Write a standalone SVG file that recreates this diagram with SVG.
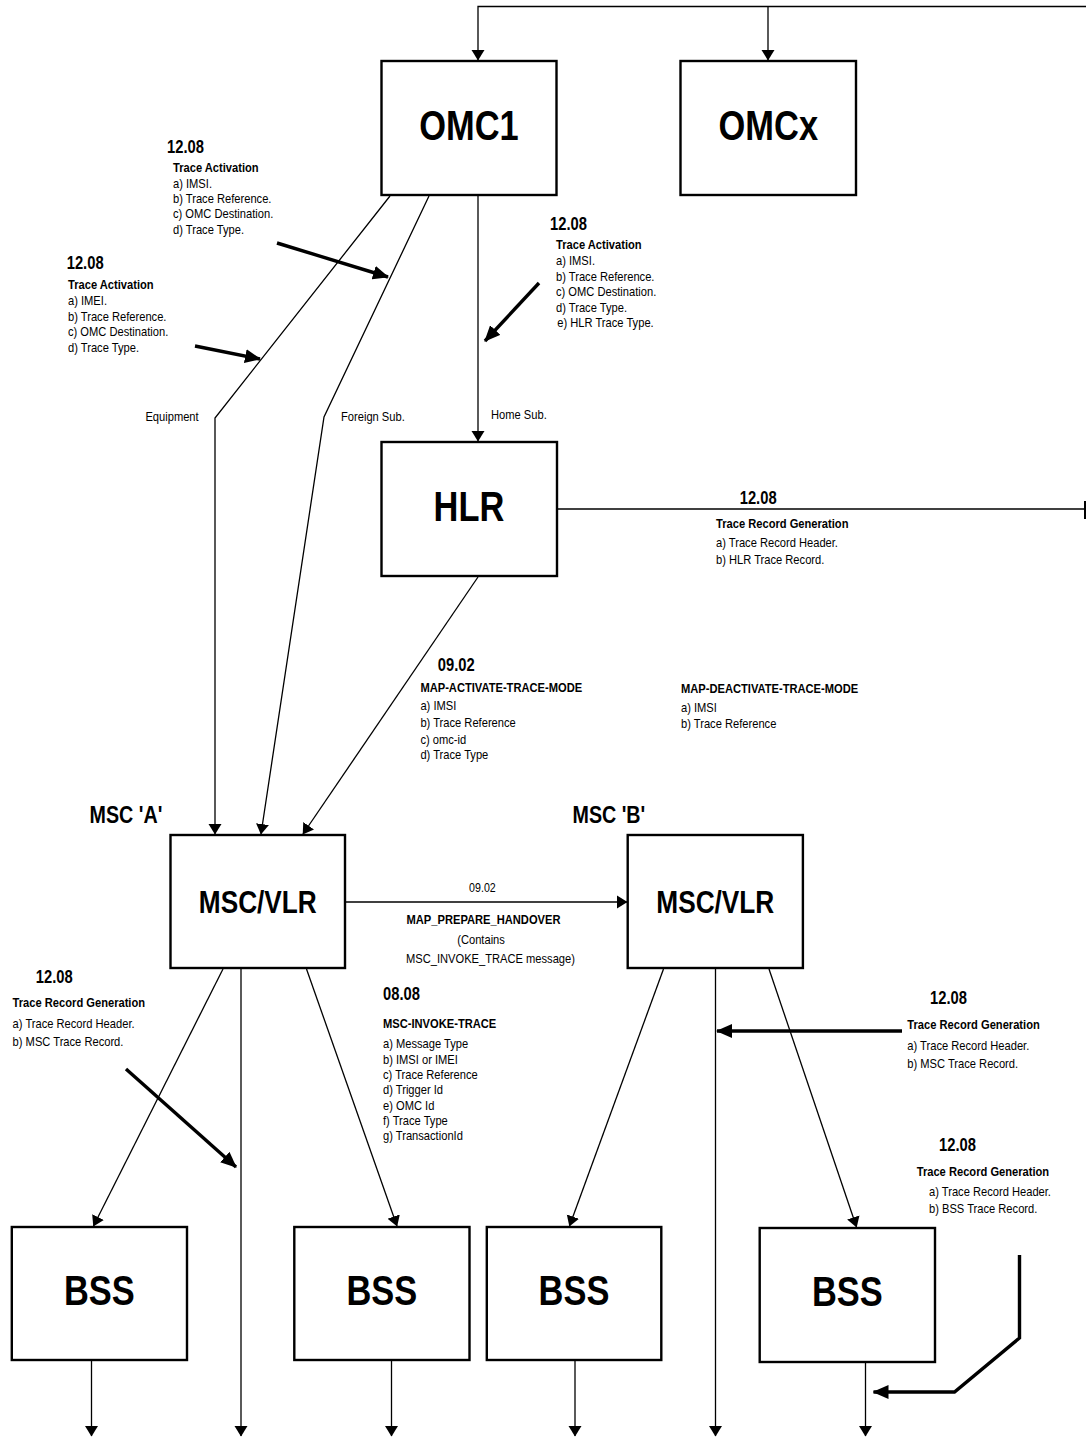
<svg xmlns="http://www.w3.org/2000/svg" width="1086" height="1437" viewBox="0 0 1086 1437">
<style>
text{font-family:"Liberation Sans",Arial,sans-serif;fill:#000}
.t{font-size:13.6px}
.b{font-weight:bold}
.h{font-size:18px;font-weight:bold}
.n{font-size:42px;font-weight:bold;text-anchor:middle}
.m{font-size:32px;font-weight:bold;text-anchor:middle}
.ms{font-size:24px;font-weight:bold}
.c{text-anchor:middle}
.box{fill:#fff;stroke:#000;stroke-width:2.4}
.ln{fill:none;stroke:#000;stroke-width:1.3}
.ar{marker-end:url(#a)}
.tk{fill:none;stroke:#000;stroke-width:3.4;marker-end:url(#ab)}
</style>
<defs>
<marker id="a" markerUnits="userSpaceOnUse" viewBox="0 0 11 14" markerWidth="11" markerHeight="14" refX="10" refY="7" orient="auto"><path d="M0,0.5 L10.5,7 L0,13.5 z" fill="#000"/></marker>
<marker id="ab" markerUnits="userSpaceOnUse" viewBox="0 0 16 14" markerWidth="16" markerHeight="14" refX="15" refY="7" orient="auto"><path d="M0,0 L16,7 L0,14 z" fill="#000"/></marker>
</defs>
<rect width="1086" height="1437" fill="#fff"/>

<g id="connectors">
<polyline class="ln ar" points="1086,6.5 478,6.5 478,60"/>
<line class="ln ar" x1="768" y1="6.5" x2="768" y2="60"/>
<line class="ln ar" x1="478" y1="196" x2="478" y2="441"/>
<polyline class="ln ar" points="390,196 215,418 215,834"/>
<polyline class="ln ar" points="429,196 324,417 261,834"/>
<line class="ln ar" x1="478" y1="577" x2="303" y2="834"/>
<line class="ln" x1="557" y1="509" x2="1085" y2="509"/>
<line x1="1085" y1="501" x2="1085" y2="519" stroke="#000" stroke-width="2"/>
<line class="ln ar" x1="346" y1="902" x2="627" y2="902"/>
<line class="ln ar" x1="223" y1="969" x2="93.5" y2="1226"/>
<line class="ln ar" x1="241" y1="969" x2="241" y2="1436"/>
<line class="ln ar" x1="306.5" y1="969" x2="397" y2="1226"/>
<line class="ln ar" x1="663.5" y1="969" x2="569.5" y2="1226"/>
<line class="ln ar" x1="715.5" y1="969" x2="715.5" y2="1436"/>
<line class="ln ar" x1="769" y1="969" x2="856.5" y2="1227"/>
<line class="ln ar" x1="91.5" y1="1361" x2="91.5" y2="1436"/>
<line class="ln ar" x1="391.5" y1="1361" x2="391.5" y2="1436"/>
<line class="ln ar" x1="575" y1="1361" x2="575" y2="1436"/>
<line class="ln ar" x1="865.5" y1="1363" x2="865.5" y2="1436"/>
<line class="tk" x1="277" y1="243" x2="388" y2="277"/>
<line class="tk" x1="195" y1="346" x2="260" y2="359"/>
<line class="tk" x1="539" y1="283" x2="485" y2="341"/>
<line class="tk" x1="126" y1="1069" x2="236" y2="1167"/>
<line class="tk" x1="902" y1="1031" x2="717" y2="1031"/>
<polyline class="tk" points="1019.5,1255 1019.5,1338 954.5,1392 873.5,1392"/>
</g>

<g id="omc1"><rect class="box" x="381.5" y="61" width="175" height="134"/><text class="n" transform="translate(469,140) scale(0.82,1)">OMC1</text></g>
<g id="omcx"><rect class="box" x="680.5" y="61" width="175.5" height="134"/><text class="n" transform="translate(768.3,140) scale(0.82,1)">OMCx</text></g>
<g id="hlr"><rect class="box" x="381.5" y="442" width="175.5" height="134"/><text class="n" transform="translate(469,521) scale(0.82,1)">HLR</text></g>
<g id="msc_a"><rect class="box" x="170.5" y="835" width="174.5" height="133"/><text class="m" transform="translate(257.8,912.7) scale(0.82,1)">MSC/VLR</text></g>
<g id="msc_b"><rect class="box" x="627.7" y="835" width="175.2" height="133"/><text class="m" transform="translate(715.3,912.7) scale(0.82,1)">MSC/VLR</text></g>
<g id="bss1"><rect class="box" x="11.8" y="1227" width="175.2" height="133"/><text class="n" transform="translate(99.4,1305) scale(0.82,1)">BSS</text></g>
<g id="bss2"><rect class="box" x="294.3" y="1227" width="175.2" height="133"/><text class="n" transform="translate(381.9,1305) scale(0.82,1)">BSS</text></g>
<g id="bss3"><rect class="box" x="486.8" y="1227" width="174.5" height="133"/><text class="n" transform="translate(574,1305) scale(0.82,1)">BSS</text></g>
<g id="bss4"><rect class="box" x="759.7" y="1228" width="175.3" height="134"/><text class="n" transform="translate(847.4,1306) scale(0.82,1)">BSS</text></g>

<g id="labels">
<g transform="translate(173,0) scale(0.82,1)">
<text class="h" x="-7.3" y="153">12.08</text>
<text class="t b" x="0" y="172">Trace Activation</text>
<text class="t" x="0" y="188">a) IMSI.</text>
<text class="t" x="0" y="203">b) Trace Reference.</text>
<text class="t" x="0" y="218.5">c) OMC Destination.</text>
<text class="t" x="0" y="234">d) Trace Type.</text>
</g>
<g transform="translate(68,0) scale(0.82,1)">
<text class="h" x="-1.6" y="269">12.08</text>
<text class="t b" x="0" y="289">Trace Activation</text>
<text class="t" x="0" y="305.5">a) IMEI.</text>
<text class="t" x="0" y="321">b) Trace Reference.</text>
<text class="t" x="0" y="336.5">c) OMC Destination.</text>
<text class="t" x="0" y="352">d) Trace Type.</text>
</g>
<g transform="translate(556,0) scale(0.82,1)">
<text class="h" x="-7.3" y="230">12.08</text>
<text class="t b" x="0" y="249.5">Trace Activation</text>
<text class="t" x="0" y="265.5">a) IMSI.</text>
<text class="t" x="0" y="281">b) Trace Reference.</text>
<text class="t" x="0" y="296.5">c) OMC Destination.</text>
<text class="t" x="0" y="312">d) Trace Type.</text>
<text class="t" x="1.6" y="327.5">e) HLR Trace Type.</text>
</g>
<text class="t" transform="translate(145.4,420.7) scale(0.82,1)">Equipment</text>
<text class="t" transform="translate(341,420.7) scale(0.82,1)">Foreign Sub.</text>
<text class="t" transform="translate(491,419.3) scale(0.82,1)">Home Sub.</text>
<g transform="translate(716,0) scale(0.82,1)">
<text class="h" x="28.9" y="504">12.08</text>
<text class="t b" x="0" y="528.3">Trace Record Generation</text>
<text class="t" x="0" y="546.7">a) Trace Record Header.</text>
<text class="t" x="0" y="564.3">b) HLR Trace Record.</text>
</g>
<g transform="translate(420.4,0) scale(0.82,1)">
<text class="h" x="21.2" y="670.7">09.02</text>
<text class="t b" x="0" y="691.7">MAP-ACTIVATE-TRACE-MODE</text>
<text class="t" x="0" y="710">a) IMSI</text>
<text class="t" x="0" y="726.7">b) Trace Reference</text>
<text class="t" x="0" y="744">c) omc-id</text>
<text class="t" x="0" y="759.5">d) Trace Type</text>
</g>
<g transform="translate(681,0) scale(0.82,1)">
<text class="t b" x="0" y="693.3">MAP-DEACTIVATE-TRACE-MODE</text>
<text class="t" x="0" y="711.7">a) IMSI</text>
<text class="t" x="0" y="728.3">b) Trace Reference</text>
</g>
<text class="ms" transform="translate(89.6,823.3) scale(0.82,1)">MSC 'A'</text>
<text class="ms" transform="translate(572.5,823.3) scale(0.82,1)">MSC 'B'</text>
<g transform="translate(483,0) scale(0.82,1)">
<text class="t c" x="-0.7" y="892.3" style="font-size:13px">09.02</text>
<text class="t b c" x="0.6" y="924">MAP_PREPARE_HANDOVER</text>
<text class="t c" x="-2.4" y="944">(Contains</text>
<text class="t c" x="9.1" y="963.3">MSC_INVOKE_TRACE message)</text>
</g>
<g transform="translate(12.6,0) scale(0.82,1)">
<text class="h" x="28.3" y="982.7">12.08</text>
<text class="t b" x="0" y="1007.3">Trace Record Generation</text>
<text class="t" x="0" y="1028.3">a) Trace Record Header.</text>
<text class="t" x="0" y="1046">b) MSC Trace Record.</text>
</g>
<g transform="translate(383,0) scale(0.82,1)">
<text class="h" x="0" y="1000">08.08</text>
<text class="t b" x="0" y="1027.7">MSC-INVOKE-TRACE</text>
<text class="t" x="0" y="1048.3">a) Message Type</text>
<text class="t" x="0" y="1063.6">b) IMSI or IMEI</text>
<text class="t" x="0" y="1079">c) Trace Reference</text>
<text class="t" x="0" y="1094.3">d) Trigger Id</text>
<text class="t" x="0" y="1109.6">e) OMC Id</text>
<text class="t" x="0" y="1125">f) Trace Type</text>
<text class="t" x="0" y="1140.3">g) TransactionId</text>
</g>
<g transform="translate(907.3,0) scale(0.82,1)">
<text class="h" x="27.7" y="1004">12.08</text>
<text class="t b" x="0" y="1029">Trace Record Generation</text>
<text class="t" x="0" y="1050">a) Trace Record Header.</text>
<text class="t" x="0" y="1067.7">b) MSC Trace Record.</text>
</g>
<g transform="translate(916.7,0) scale(0.82,1)">
<text class="h" x="27.2" y="1150.7">12.08</text>
<text class="t b" x="0" y="1175.7">Trace Record Generation</text>
<text class="t" x="15" y="1196">a) Trace Record Header.</text>
<text class="t" x="15" y="1213.3">b) BSS Trace Record.</text>
</g>
</g>
</svg>
